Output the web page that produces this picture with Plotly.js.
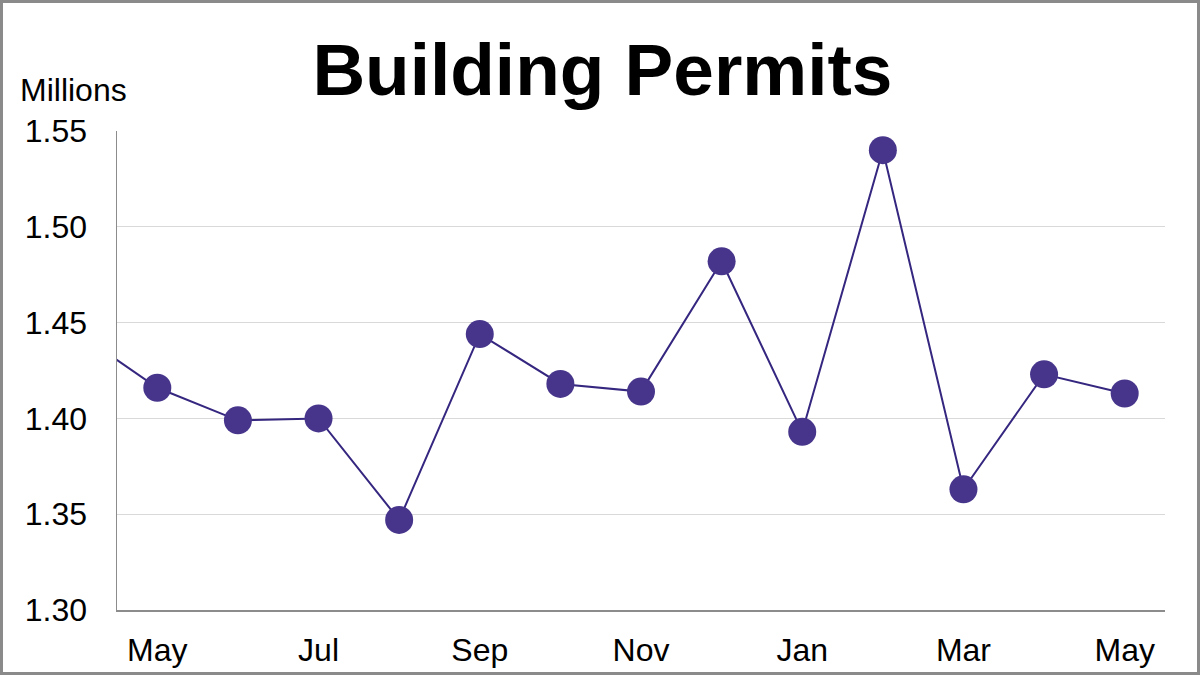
<!DOCTYPE html>
<html>
<head>
<meta charset="utf-8">
<script src="https://cdn.plot.ly/plotly-3.0.1.min.js"></script>
<style>
  html, body { margin: 0; padding: 0; background: #fff; }
  #wrap { position: relative; width: 1200px; height: 675px; }
  #chart { width: 1200px; height: 675px; }
  #frame { position: absolute; left: 0; top: 0; width: 1200px; height: 675px; box-sizing: border-box; border: 3px solid #8a8a8a; pointer-events: none; }
</style>
</head>
<body>
<div id="wrap"><div id="chart"></div><div id="frame"></div></div>
<script>
// Months (first entry is the prior month, partly clipped at the left edge)
const months = ["Apr", "May", "Jun", "Jul", "Aug", "Sep", "Oct", "Nov", "Dec", "Jan", "Feb", "Mar", "Apr", "May"];
const permits = [1.445, 1.416, 1.399, 1.400, 1.347, 1.444, 1.418, 1.414, 1.482, 1.393, 1.540, 1.363, 1.423, 1.413];
const yTicks = [1.30, 1.35, 1.40, 1.45, 1.50, 1.55];
const labelEvery = 2; // label every other month starting with first May

const xIdx = months.map((m, i) => i);
const tickIdx = xIdx.filter(i => i >= 1 && (i - 1) % labelEvery === 0);
const tickTxt = tickIdx.map(i => months[i]);

const FONT = "Liberation Sans, Arial, sans-serif";

const trace = {
  x: xIdx,
  y: permits,
  type: "scatter",
  mode: "lines+markers",
  line: { color: "#35267f", width: 2 },
  marker: { color: "#47358b", size: 28, line: { width: 0 } },
  cliponaxis: true,
  hoverinfo: "skip"
};

const layout = {
  width: 1200,
  height: 675,
  paper_bgcolor: "#ffffff",
  plot_bgcolor: "#ffffff",
  showlegend: false,
  margin: { l: 117, r: 35, t: 131, b: 65 },
  title: {
    text: "<b>Building Permits</b>",
    font: { family: FONT, size: 73, color: "#000" },
    x: 0.502, xanchor: "center",
    xref: "container", yref: "container",
    y: 1 - 69 / 675, yanchor: "middle"
  },
  xaxis: {
    range: [0.5, 13.5],
    tickvals: tickIdx,
    ticktext: tickTxt,
    showgrid: false,
    zeroline: false,
    showline: true,
    linecolor: "#8c8c8c",
    linewidth: 1.5,
    ticks: "",
    ticklabelstandoff: 11,
    tickfont: { family: FONT, size: 32, color: "#000" },
    fixedrange: true
  },
  yaxis: {
    range: [1.30, 1.55],
    tickvals: yTicks,
    ticktext: yTicks.map(v => v.toFixed(2)),
    showgrid: true,
    gridcolor: "#d9d9d9",
    gridwidth: 1,
    zeroline: false,
    showline: true,
    linecolor: "#8c8c8c",
    linewidth: 1.5,
    ticks: "",
    ticklabelstandoff: 22,
    tickfont: { family: FONT, size: 32, color: "#000" },
    fixedrange: true
  },
  annotations: [{
    text: "Millions",
    xref: "paper", yref: "paper",
    x: (18 - 117) / 1048, xanchor: "left",
    y: (610 - 90) / 479, yanchor: "middle",
    showarrow: false,
    font: { family: FONT, size: 32, color: "#000" }
  }]
};

Plotly.newPlot("chart", [trace], layout, { displayModeBar: false, staticPlot: true });
</script>
</body>
</html>
